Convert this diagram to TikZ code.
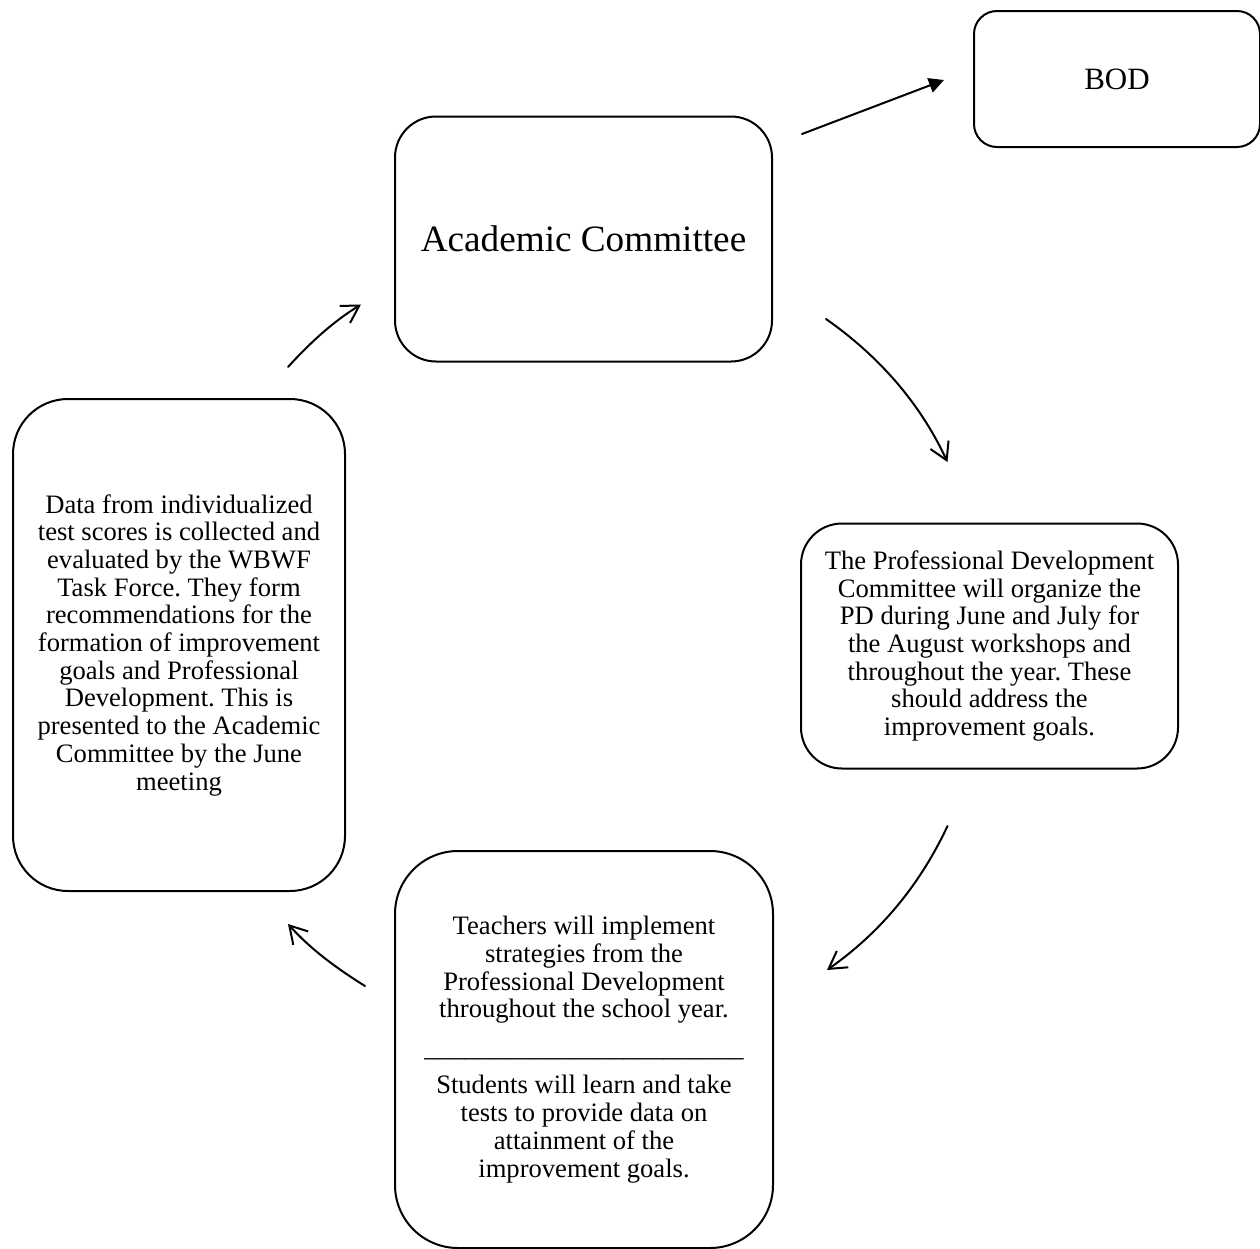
\documentclass[tikz,border=0pt]{standalone}
\usepackage{fontspec}
\setmainfont{Liberation Serif}
\usepackage{tikz}
\usetikzlibrary{arrows.meta}
\newcommand\boxfont{\fontsize{13.3}{13.85}\selectfont}
\frenchspacing

\begin{document}
\begin{tikzpicture}[x=0.5pt,y=-0.5pt,line width=1pt,line cap=round,
  >={Straight Barb[length=8.5pt,width=10pt]},
  box/.style={draw,align=center,inner sep=0pt,font=\boxfont}]
\useasboundingbox (0,0) rectangle (1260,1249);
% the five boxes
\node[box,minimum width=188.5pt,minimum height=122.5pt,rounded corners=20.5pt,
  font=\fontsize{18.6}{20}\selectfont] (acad) at (583.5,239) {Academic Committee};
\node[box,minimum width=143pt,minimum height=68pt,rounded corners=11.5pt,
  font=\fontsize{15.5}{17}\selectfont] (bod) at (1117,79) {BOD};
\node[box,minimum width=188.5pt,minimum height=122.5pt,rounded corners=20.5pt] (pd) at (989.5,646)
  {The Professional Development\\ Committee will organize the\\ PD during June and July for\\
   the August workshops and\\ throughout the year. These\\ should address the\\ improvement goals.};
\node[box,minimum width=189pt,minimum height=198.5pt,rounded corners=31.5pt] (teach) at (584,1049.5)
  {Teachers will implement\\ strategies from the\\ Professional Development\\
   throughout the school year.\\[5.7pt]
   \_\_\_\_\_\_\_\_\_\_\_\_\_\_\_\_\_\_\_\_\_\_\_\_\\[4.7pt]
   Students will learn and take\\ tests to provide data on\\ attainment of the\\ improvement goals.};
\node[box,minimum width=166pt,minimum height=246pt,rounded corners=27.5pt] (data) at (179,645)
  {Data from individualized\\ test scores is collected and\\ evaluated by the WBWF\\ Task Force. They form\\
   recommendations for the\\ formation of improvement\\ goals and Professional\\ Development. This is\\
   presented to the Academic\\ Committee by the June\\ meeting};
% arrow ends
\coordinate (a1s) at ([shift={(29,18.5)}]acad.north east);
\coordinate (a1e) at ([shift={(-29,1)}]bod.west);
\coordinate (a2s) at ([shift={(53,-43.5)}]acad.south east);
\coordinate (a2e) at ([shift={(-42,-60.5)}]pd.north);
\coordinate (a3s) at ([shift={(-42,56.5)}]pd.south);
\coordinate (a3e) at ([shift={(53,-79.5)}]teach.east);
\coordinate (a4s) at ([shift={(-29,-63.5)}]teach.west);
\coordinate (a4e) at ([shift={(-58,32)}]data.south east);
\coordinate (a5s) at ([shift={(-58,-31)}]data.north east);
\coordinate (a5e) at ([shift={(-33,65.5)}]acad.west);
% connectors
\draw[-{Triangle[length=7.5pt,width=7.5pt]}] (a1s) -- (a1e);
\draw[->] (a2s) .. controls +(53.2,37.3) and +(-27.5,-58.9) .. (a2e);
\draw[->] (a3s) .. controls +(-27.5,58.9) and +(53.2,-37.3) .. (a3e);
\draw[->] (a4s) .. controls +(-28.8,-18) and +(22.8,25.3) .. (a4e);
\draw[->] (a5s) .. controls +(22.2,-24.4) and +(-28.1,17.3) .. (a5e);
\end{tikzpicture}
\end{document}
